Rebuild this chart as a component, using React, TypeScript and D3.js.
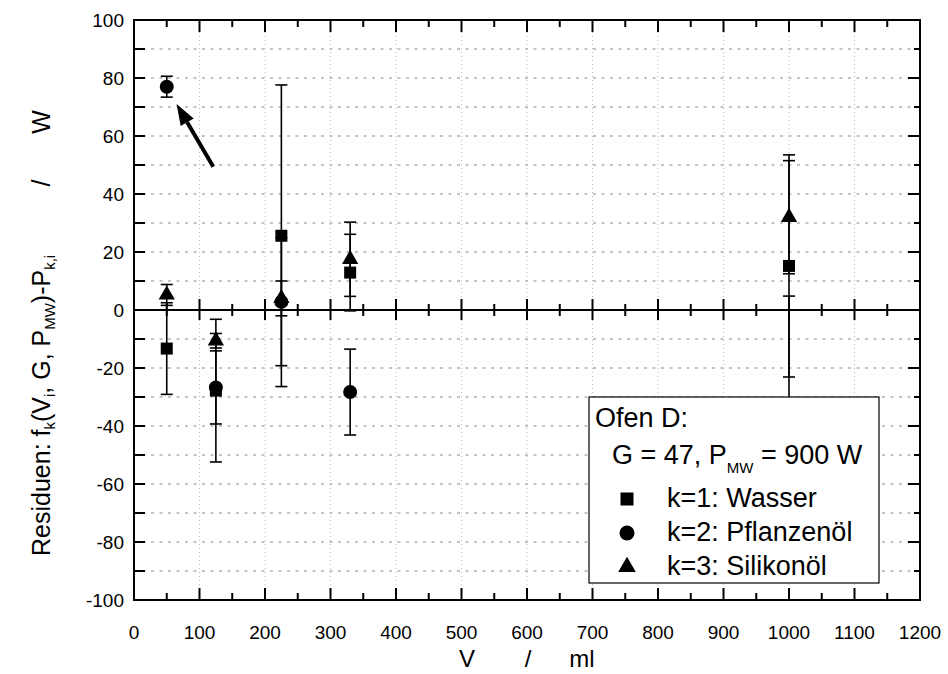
import React from 'react';
import * as d3 from 'd3';

// ---- data ----
const volumes = [50, 125, 225, 330, 1000];
const wasser = [-13.3, -27.8, 25.6, 12.9, 15.2];
const wasserErr = [15.8, 24.6, 52, 13.2, 38.3];
const pflanzenoel = [77, -26.7, 2.8, -28.3, -40];
const pflanzenoelErr = [3.6, 12.6, 22, 14.8, 44.8];
const silikonoel = [5.2, -10.6, 4, 17.5, 32];
const silikonoelErr = [3.6, 2.5, 6, 12.8, 19.5];
const xTickValues = [0, 100, 200, 300, 400, 500, 600, 700, 800, 900, 1000, 1100, 1200];
const yTickValues = [-100, -80, -60, -40, -20, 0, 20, 40, 60, 80, 100];
const arrowTail = [121, 49.4];
const arrowTip = [65, 71];

const FONT = "'Liberation Sans', Arial, sans-serif";

const series = [
  { name: 'k=1: Wasser', values: wasser, errs: wasserErr, symbol: d3.symbolSquare, size: 144, lsize: 169 },
  { name: 'k=2: Pflanzenöl', values: pflanzenoel, errs: pflanzenoelErr, symbol: d3.symbolCircle, size: 154, lsize: 177 },
  { name: 'k=3: Silikonöl', values: silikonoel, errs: silikonoelErr, symbol: d3.symbolTriangle, size: 115, lsize: 135 },
];

export default function App() {
  const x = d3.scaleLinear().domain([0, 1200]).range([134, 920]);
  const y = d3.scaleLinear().domain([-100, 100]).range([600, 20]);
  const [x0, x1] = x.range();
  const [y0, y1] = [y(-100), y(100)];

  const xMinor = d3.range(50, 1200, 100);
  const yAll = d3.range(-90, 100, 10);
  const yMinor = d3.range(-90, 100, 20);
  const xGrid = d3.range(100, 1200, 100);

  // arrow geometry
  const tx = x(arrowTail[0]), ty = y(arrowTail[1]);
  const hx = x(arrowTip[0]), hy = y(arrowTip[1]);
  const ang = Math.atan2(hy - ty, hx - tx);
  const headLen = 21, headHalf = 7.5;
  const bx = hx - headLen * Math.cos(ang), by = hy - headLen * Math.sin(ang);
  const px = -Math.sin(ang), py = Math.cos(ang);
  const headPts = `${hx},${hy} ${bx + px * headHalf},${by + py * headHalf} ${bx - px * headHalf},${by - py * headHalf}`;

  const capW = 6;

  return (
    <div style={{ position: 'fixed', left: 0, top: 0 }}>
      <svg width={948} height={674} style={{ display: 'block', background: '#fff' }} fontFamily={FONT}>
        {/* grid */}
        {yAll.filter(v => v !== 0).map(v => (
          <line key={'hg' + v} x1={x0} x2={x1} y1={y(v)} y2={y(v)} stroke="#8a8a8a" strokeWidth={1} strokeDasharray="3,5.5" />
        ))}
        {xGrid.map(v => (
          <line key={'vg' + v} x1={x(v)} x2={x(v)} y1={y1} y2={y0} stroke="#b8b8b8" strokeWidth={1} strokeDasharray="1,3" />
        ))}

        {/* zero line with crossing ticks */}
        <line x1={x0} x2={x1} y1={y(0)} y2={y(0)} stroke="#000" strokeWidth={2} />
        {xTickValues.map(v => (
          <line key={'zt' + v} x1={x(v)} x2={x(v)} y1={y(0) - 11} y2={y(0) + 10} stroke="#000" strokeWidth={2} />
        ))}
        {xMinor.map(v => (
          <line key={'ztm' + v} x1={x(v)} x2={x(v)} y1={y(0) - 6} y2={y(0) + 6} stroke="#000" strokeWidth={2} />
        ))}

        {/* frame ticks */}
        {xTickValues.map(v => (
          <g key={'xt' + v}>
            <line x1={x(v)} x2={x(v)} y1={y0} y2={y0 - 12} stroke="#000" strokeWidth={2} />
            <line x1={x(v)} x2={x(v)} y1={y1} y2={y1 + 12} stroke="#000" strokeWidth={2} />
          </g>
        ))}
        {xMinor.map(v => (
          <g key={'xm' + v}>
            <line x1={x(v)} x2={x(v)} y1={y0} y2={y0 - 7} stroke="#000" strokeWidth={2} />
            <line x1={x(v)} x2={x(v)} y1={y1} y2={y1 + 7} stroke="#000" strokeWidth={2} />
          </g>
        ))}
        {yTickValues.map(v => (
          <g key={'yt' + v}>
            <line x1={x0} x2={x0 + 11} y1={y(v)} y2={y(v)} stroke="#000" strokeWidth={2} />
            <line x1={x1} x2={x1 - 12} y1={y(v)} y2={y(v)} stroke="#000" strokeWidth={2} />
          </g>
        ))}
        {yMinor.map(v => (
          <g key={'ym' + v}>
            <line x1={x0} x2={x0 + 11} y1={y(v)} y2={y(v)} stroke="#000" strokeWidth={2} />
            <line x1={x1} x2={x1 - 6} y1={y(v)} y2={y(v)} stroke="#000" strokeWidth={2} />
          </g>
        ))}

        {/* error bars */}
        {series.map(s => s.values.map((v, i) => {
          const cx = x(volumes[i]);
          const top = y(v + s.errs[i]);
          const bot = y(v - s.errs[i]);
          return (
            <g key={s.name + 'e' + i} stroke="#000" strokeWidth={1.6}>
              <line x1={cx} x2={cx} y1={top} y2={bot} />
              <line x1={cx - capW} x2={cx + capW} y1={top} y2={top} />
              <line x1={cx - capW} x2={cx + capW} y1={bot} y2={bot} />
            </g>
          );
        }))}

        {/* markers */}
        {series.map(s => s.values.map((v, i) => (
          <path key={s.name + 'm' + i} d={d3.symbol().type(s.symbol).size(s.size)() || ''}
            transform={`translate(${x(volumes[i])},${y(v)})`} fill="#000" />
        )))}

        {/* arrow annotation */}
        <line x1={tx} y1={ty} x2={bx} y2={by} stroke="#000" strokeWidth={4} />
        <polygon points={headPts} fill="#000" />

        {/* frame */}
        <rect x={x0} y={y1} width={x1 - x0} height={y0 - y1} fill="none" stroke="#000" strokeWidth={2} />

        {/* tick labels */}
        {xTickValues.map(v => (
          <text key={'xl' + v} x={x(v)} y={639} fontSize={19} textAnchor="middle">{v}</text>
        ))}
        {yTickValues.map(v => (
          <text key={'yl' + v} x={124} y={y(v) + 7} fontSize={19} textAnchor="end">{v}</text>
        ))}

        {/* axis titles */}
        <text x={467} y={667} fontSize={24} textAnchor="middle">V</text>
        <text x={528} y={667} fontSize={24} textAnchor="middle">/</text>
        <text x={582} y={667} fontSize={24} textAnchor="middle">ml</text>

        <g transform="translate(50,556) rotate(-90)">
          <text x={0} y={0} fontSize={25}>
            <tspan>Residuen: f</tspan>
            <tspan fontSize={15} dy={5}>k</tspan>
            <tspan dy={-5}>(V</tspan>
            <tspan fontSize={15} dy={5}>i</tspan>
            <tspan dy={-5}>, G, P</tspan>
            <tspan fontSize={15} dy={5}>MW</tspan>
            <tspan dy={-5}>)-P</tspan>
            <tspan fontSize={15} dy={5}>k,i</tspan>
          </text>
        </g>
        <text transform="translate(50,183) rotate(-90)" fontSize={25} textAnchor="middle">/</text>
        <text transform="translate(50,122) rotate(-90)" fontSize={25} textAnchor="middle">W</text>

        {/* legend */}
        <rect x={589} y={397} width={290} height={186} fill="#fff" stroke="#000" strokeWidth={1.2} />
        <text x={595} y={427} fontSize={27}>Ofen D:</text>
        <text x={612} y={464} fontSize={27}>
          <tspan>G = 47, P</tspan>
          <tspan fontSize={15} dy={9}>MW</tspan>
          <tspan dy={-9}> = 900 W</tspan>
        </text>
        {series.map((s, i) => (
          <g key={'lg' + i}>
            <path d={d3.symbol().type(s.symbol).size(s.lsize)() || ''}
              transform={`translate(627,${499 + i * 34})`} fill="#000" />
            <text x={667} y={507 + i * 34} fontSize={27}>{s.name}</text>
          </g>
        ))}
      </svg>
    </div>
  );
}
